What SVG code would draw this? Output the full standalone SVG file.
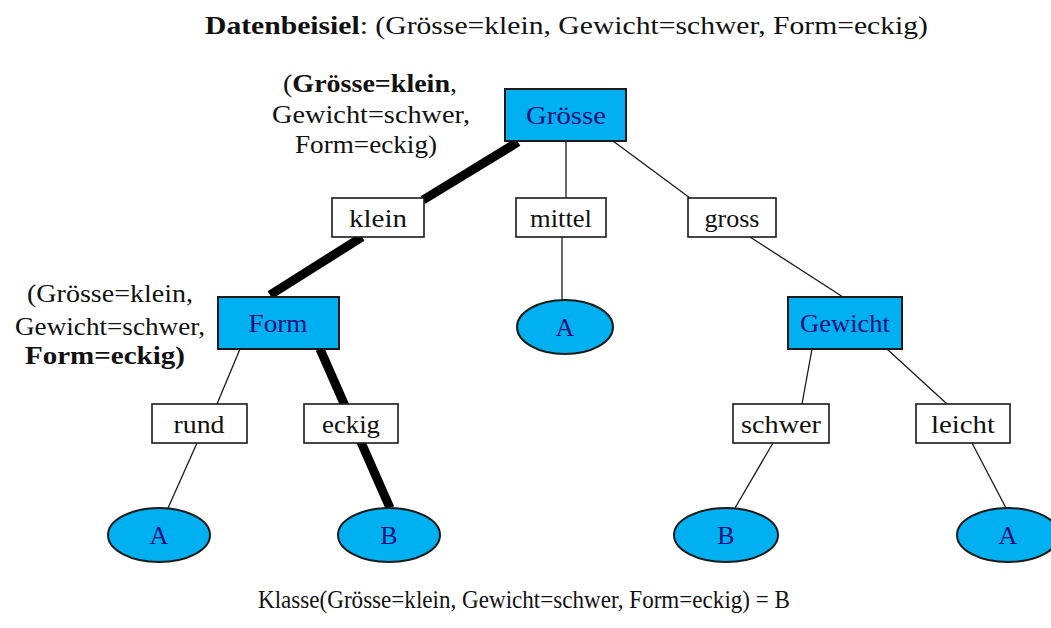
<svg xmlns="http://www.w3.org/2000/svg" width="1051" height="628" viewBox="0 0 1051 628">
<style>
text{font-family:"Liberation Serif","Times New Roman",serif;font-size:26px;fill:#111}
.lbl{text-anchor:middle}
.nt{fill:#10107a}
.blue{fill:#00b0f0;stroke:#1a1a1a;stroke-width:2}
.wbox{fill:#fff;stroke:#1a1a1a;stroke-width:1.6}
.thin{stroke:#1a1a1a;stroke-width:1.3;fill:none}
.thick{stroke:#000;stroke-width:9;fill:none}
.b{font-weight:bold}
</style>
<rect width="1051" height="628" fill="#fff"/>
<text x="205" y="34" textLength="723" lengthAdjust="spacingAndGlyphs"><tspan class="b">Datenbeisiel</tspan>: (Grösse=klein, Gewicht=schwer, Form=eckig)</text>
<g id="connectors">
<line class="thin" x1="566" y1="141" x2="566" y2="198"/>
<line class="thin" x1="613" y1="141" x2="690" y2="198"/>
<line class="thin" x1="562" y1="237" x2="562" y2="300"/>
<line class="thin" x1="750" y1="237" x2="843" y2="297"/>
<line class="thin" x1="240" y1="349" x2="217" y2="404"/>
<line class="thin" x1="197" y1="443" x2="168" y2="508"/>
<line class="thin" x1="812" y1="349" x2="802" y2="404"/>
<line class="thin" x1="773" y1="443" x2="735" y2="508"/>
<line class="thin" x1="887" y1="349" x2="947" y2="404"/>
<line class="thin" x1="972" y1="443" x2="1006" y2="508"/>
<line class="thick" x1="518" y1="142" x2="423" y2="200"/>
<line class="thick" x1="362" y1="237" x2="270" y2="295"/>
<line class="thick" x1="320" y1="349" x2="390" y2="508"/>
</g>
<g id="n_groesse"><rect class="blue" x="505" y="89" width="121" height="52"/><text class="lbl nt" x="566" y="124" textLength="80" lengthAdjust="spacingAndGlyphs">Grösse</text></g>
<g id="n_klein"><rect class="wbox" x="332" y="198" width="92" height="39"/><text class="lbl" x="378" y="227" textLength="58" lengthAdjust="spacingAndGlyphs">klein</text></g>
<g id="n_mittel"><rect class="wbox" x="516" y="198" width="90" height="39"/><text class="lbl" x="561" y="227" textLength="62" lengthAdjust="spacingAndGlyphs">mittel</text></g>
<g id="n_gross"><rect class="wbox" x="688" y="198" width="88" height="39"/><text class="lbl" x="732" y="227" textLength="55" lengthAdjust="spacingAndGlyphs">gross</text></g>
<g id="n_form"><rect class="blue" x="218" y="297" width="121" height="52"/><text class="lbl nt" x="278" y="332" textLength="59" lengthAdjust="spacingAndGlyphs">Form</text></g>
<g id="n_A_mittel"><ellipse class="blue" cx="565" cy="327" rx="48" ry="27"/><text class="lbl nt" x="565" y="336">A</text></g>
<g id="n_gewicht"><rect class="blue" x="788" y="297" width="114" height="52"/><text class="lbl nt" x="845" y="332" textLength="90" lengthAdjust="spacingAndGlyphs">Gewicht</text></g>
<g id="n_rund"><rect class="wbox" x="152" y="404" width="95" height="39"/><text class="lbl" x="199" y="433" textLength="51" lengthAdjust="spacingAndGlyphs">rund</text></g>
<g id="n_eckig"><rect class="wbox" x="304" y="404" width="94" height="39"/><text class="lbl" x="351" y="433" textLength="58" lengthAdjust="spacingAndGlyphs">eckig</text></g>
<g id="n_schwer"><rect class="wbox" x="733" y="404" width="96" height="39"/><text class="lbl" x="781" y="433" textLength="80" lengthAdjust="spacingAndGlyphs">schwer</text></g>
<g id="n_leicht"><rect class="wbox" x="916" y="404" width="94" height="39"/><text class="lbl" x="963" y="433" textLength="64" lengthAdjust="spacingAndGlyphs">leicht</text></g>
<g id="n_A_rund"><ellipse class="blue" cx="159" cy="535" rx="51" ry="27"/><text class="lbl nt" x="159" y="544">A</text></g>
<g id="n_B_eckig"><ellipse class="blue" cx="389" cy="535" rx="51" ry="27"/><text class="lbl nt" x="389" y="544">B</text></g>
<g id="n_B_schwer"><ellipse class="blue" cx="726" cy="535" rx="52" ry="27"/><text class="lbl nt" x="726" y="544">B</text></g>
<g id="n_A_leicht"><ellipse class="blue" cx="1008" cy="535" rx="51" ry="27"/><text class="lbl nt" x="1008" y="544">A</text></g>
<g id="ann1">
<text x="283" y="92" textLength="174" lengthAdjust="spacingAndGlyphs">(<tspan class="b">Grösse=klein</tspan>,</text>
<text x="272" y="123" textLength="198" lengthAdjust="spacingAndGlyphs">Gewicht=schwer,</text>
<text x="295" y="153" textLength="142" lengthAdjust="spacingAndGlyphs">Form=eckig)</text>
</g>
<g id="ann2">
<text x="27" y="302" textLength="166" lengthAdjust="spacingAndGlyphs">(Grösse=klein,</text>
<text x="15" y="335" textLength="190" lengthAdjust="spacingAndGlyphs">Gewicht=schwer,</text>
<text x="25" y="364" textLength="160" lengthAdjust="spacingAndGlyphs" class="b">Form=eckig)</text>
</g>
<text x="258" y="608" textLength="532" lengthAdjust="spacingAndGlyphs">Klasse(Grösse=klein, Gewicht=schwer, Form=eckig) = B</text>
</svg>
